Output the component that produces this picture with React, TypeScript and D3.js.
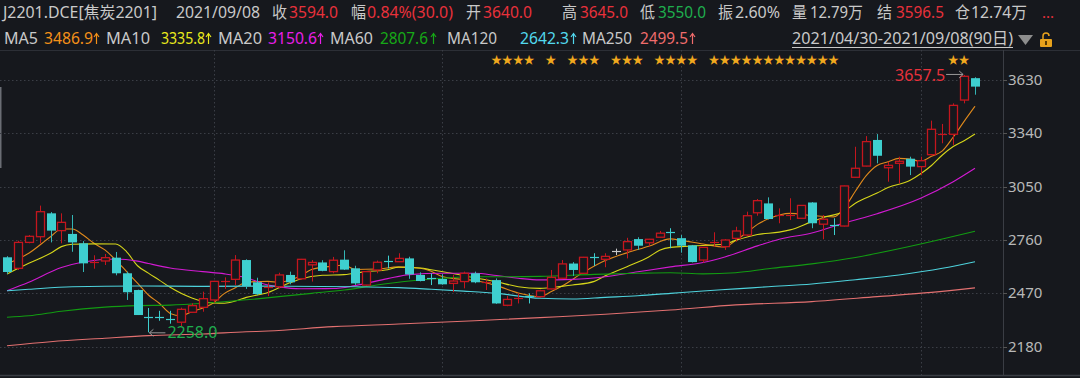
import React from "react";
import * as d3 from "d3";

// ---- data ----
const openP = [2666,2606,2747,2778,2905,2811,2793,2742,2640,2646,2664,2579,2488,2345,2340,2332,2313,2367,2394,2434,2537,2546,2651,2530,2500,2506,2570,2549,2625,2638,2588,2653,2606,2515,2597,2650,2642,2660,2570,2557,2548,2524,2534,2579,2530,2542,2405,2440,2454,2452,2494,2552,2632,2579,2668,2655,2700,2706,2765,2745,2775,2804,2770,2731,2651,2745,2724,2769,2787,2908,2959,2890,2895,2878,2964,2846,2845,2836,3101,3162,3304,3153,3177,3202,3159,3224,3330,3335,3521,3640];
const highP = [2672,2756,2787,2947,2912,2905,2896,2754,2677,2684,2695,2588,2490,2390,2375,2375,2392,2416,2479,2538,2557,2678,2655,2555,2530,2582,2588,2657,2651,2650,2668,2704,2620,2590,2648,2675,2688,2669,2584,2579,2574,2570,2588,2588,2551,2551,2456,2470,2470,2490,2597,2651,2640,2668,2688,2688,2713,2772,2775,2766,2809,2824,2787,2733,2722,2802,2765,2832,2914,2983,2992,2932,2987,2950,2966,2896,2878,3056,3267,3325,3336,3186,3213,3213,3213,3409,3391,3503,3657.5,3645];
const lowP = [2575,2597,2742,2742,2747,2742,2696,2586,2604,2624,2568,2434,2352,2258,2321,2305,2289,2365,2370,2419,2494,2515,2494,2460,2455,2497,2519,2545,2534,2590,2579,2597,2515,2512,2579,2606,2640,2549,2535,2515,2517,2477,2497,2525,2488,2413,2400,2415,2415,2448,2492,2550,2565,2577,2619,2612,2678,2660,2706,2724,2773,2715,2691,2638,2637,2724,2706,2751,2780,2892,2872,2851,2869,2876,2824,2764,2787,2834,3099,3160,3177,3077,3068,3113,3113,3222,3286,3277,3503,3550];
const closeP = [2586,2747,2780,2914,2811,2856,2747,2633,2645,2664,2579,2476,2352,2338,2338,2329,2383,2403,2441,2535,2539,2651,2510,2466,2510,2570,2530,2655,2638,2592,2650,2599,2524,2588,2639,2647,2660,2573,2537,2554,2519,2537,2579,2530,2537,2415,2437,2445,2452,2484,2557,2630,2597,2666,2666,2671,2700,2751,2729,2764,2797,2802,2729,2640,2720,2752,2760,2809,2892,2974,2874,2897,2900,2948,2851,2873,2842,3054,3150,3295,3218,3166,3188,3159,3191,3362,3340,3492,3650,3594];

const ma5Pts: [number, number][] = [[0,2630],[2,2688],[4,2778],[5,2820],[6,2820],[7,2787],[8,2742],[9,2706],[10,2651],[11,2588],[12,2525],[13,2461],[14,2416],[15,2361],[16,2348],[17,2370],[19,2419],[20,2470],[21,2500],[22,2530],[24,2535],[25,2530],[27,2565],[28,2600],[30,2618],[31,2624],[32,2600],[34,2602],[36,2614],[38,2606],[39,2590],[40,2562],[42,2545],[43,2540],[45,2512],[47,2472],[49,2452],[50,2478],[51,2508],[53,2584],[55,2648],[57,2690],[59,2726],[61,2766],[62,2758],[64,2738],[66,2722],[67,2758],[68,2800],[69,2845],[70,2875],[72,2905],[74,2893],[76,2886],[77,2935],[78,3025],[79,3110],[80,3165],[81,3185],[82,3204],[83,3200],[84,3188],[85,3215],[86,3245],[87,3320],[88,3405],[89,3487]];
const ma10Pts: [number, number][] = [[0,2575],[2,2633],[4,2688],[5,2724],[6,2737],[8,2739],[10,2738],[11,2696],[12,2620],[13,2580],[14,2542],[15,2503],[17,2445],[19,2418],[20,2416],[21,2428],[22,2448],[24,2475],[26,2527],[27,2548],[29,2568],[31,2572],[33,2588],[35,2598],[36,2612],[38,2608],[39,2598],[41,2578],[43,2555],[45,2533],[47,2506],[49,2497],[51,2508],[52,2515],[54,2535],[55,2565],[57,2615],[59,2668],[60,2704],[61,2720],[63,2727],[66,2738],[67,2758],[69,2790],[71,2803],[72,2815],[74,2860],[75,2881],[77,2918],[78,2960],[80,3015],[81,3045],[83,3083],[84,3120],[85,3165],[86,3222],[87,3268],[88,3300],[89,3336]];
const ma20Pts: [number, number][] = [[0,2484],[2,2530],[5,2610],[7,2640],[10,2657],[12,2645],[13,2632],[15,2608],[18,2588],[20,2576],[22,2555],[24,2515],[25,2505],[27,2495],[30,2496],[32,2512],[35,2550],[37,2572],[40,2579],[43,2579],[45,2567],[47,2552],[49,2543],[52,2546],[55,2560],[58,2587],[61,2614],[64,2638],[66,2668],[69,2728],[71,2764],[74,2798],[77,2853],[80,2903],[84,2987],[87,3077],[89,3150]];
const ma60Pts: [number, number][] = [[0,2340],[2,2348],[5,2373],[9,2395],[12,2403],[15,2406],[18,2416],[21,2430],[23,2440],[25,2452],[28,2470],[31,2488],[34,2515],[37,2537],[40,2552],[43,2560],[46,2560],[49,2562],[54,2573],[58,2579],[61,2582],[64,2576],[67,2582],[70,2604],[74,2630],[78,2665],[82,2712],[86,2765],[89,2808]];
const ma120Pts: [number, number][] = [[0,2484],[2,2492],[6,2506],[12,2510],[18,2508],[23,2509],[32,2506],[36,2501],[39,2492],[42,2482],[45,2470],[49,2443],[52,2439],[55,2448],[58,2457],[61,2470],[64,2483],[67,2494],[70,2506],[74,2521],[78,2544],[82,2570],[86,2606],[89,2642]];
const ma250Pts: [number, number][] = [[0,2185],[4,2207],[9,2226],[13,2240],[18,2249],[22,2261],[24,2265],[30,2289],[36,2303],[43,2321],[49,2338],[55,2356],[61,2379],[67,2407],[74,2425],[80,2452],[85,2475],[89,2500]];

const starDays = [45,46,47,48,50,52,53,54,56,57,58,60,61,62,63,65,66,67,68,69,70,71,72,73,74,75,76,87,88];
const monthStartIdx = [19, 40, 62, 84];
const yTicks = [3630, 3340, 3050, 2760, 2470, 2180];
const highIdx = 88, highVal = 3657.5;
const lowIdx = 13, lowVal = 2258.0;

const GRAY = "#c9c9c9";
const RED = "#e8313b";
const GREEN = "#1fae4e";
// [x, text, color, width]
const headerRow1: [number, string, string, number][] = [
  [3, "J2201.DCE[焦炭2201]", GRAY, 154], [176, "2021/09/08", GRAY, 84], [272, "收", GRAY, 15], [289, "3594.0", RED, 49],
  [351, "幅", GRAY, 15], [367, "0.84%(30.0)", RED, 86], [466, "开", GRAY, 15], [483, "3640.0", RED, 49],
  [562, "高", GRAY, 15], [580, "3645.0", RED, 48], [640, "低", GRAY, 15], [658, "3550.0", GREEN, 48],
  [718, "振", GRAY, 15], [735, "2.60%", GRAY, 45], [792, "量", GRAY, 15], [810, "12.79万", GRAY, 53],
  [877, "结", GRAY, 15], [896, "3596.5", RED, 48], [955, "仓", GRAY, 15], [971, "12.74万", GRAY, 56],
];
const maNames = ["MA5", "MA10", "MA20", "MA60", "MA120", "MA250"];
const maValues = ["3486.9", "3335.8", "3150.6", "2807.6", "2642.3", "2499.5"];
const maTextColors = ["#f39019", "#e8e81c", "#e81ee8", "#17a817", "#52d8ee", "#f06c6c"];
const maLineColors = ["#e08a1c", "#d6d61a", "#d21ad2", "#129c12", "#4ed2dc", "#e27070"];
const maNameX = [4, 106, 218, 330, 447, 582];
const maNameW = [34, 44, 44, 43, 50, 50];
const maValX = [44, 161, 268, 380, 520, 640];
const maValW = [49, 44, 49, 48, 49, 48];
const maArrowX = [96, 208, 320, 433, 573, 692];
const rangeText = "2021/04/30-2021/09/08(90日)";

const BG = "#16181d";
const CYAN = "#3ecfcf";
const UPRED = "#c4161e";
const FONT = "'Noto Sans','Noto Sans CJK SC',sans-serif";

export default function App() {
  const W = 1080, H = 378;
  const x = d3.scaleLinear().domain([0, closeP.length - 1]).range([7, 975]);
  const y = d3.scaleLinear().domain([2180, 3630]).range([346.67, 80]);
  const line = d3.line<[number, number]>().x(d => x(d[0])).y(d => y(d[1])).curve(d3.curveMonotoneX);
  const maSeries = [ma5Pts, ma10Pts, ma20Pts, ma60Pts, ma120Pts, ma250Pts];
  const plotTop = 50, plotBottom = 375, axisX = 1003;

  const candles = closeP.map((c, i) => {
    const o = openP[i], h = highP[i], l = lowP[i];
    const cx = Math.round(x(i));
    const yo = y(o), yc = y(c), yh = y(h), yl = y(l);
    const top = Math.min(yo, yc), bot = Math.max(yo, yc);
    const color = c > o ? UPRED : c < o ? CYAN : GRAY;
    const wx = cx + 0.5;
    if (bot - top < 2) {
      const ym = Math.round((top + bot) / 2) + 0.5;
      return (
        <g key={i}>
          <line x1={wx} x2={wx} y1={yh} y2={yl} stroke={color} strokeWidth={1} />
          <line x1={cx - 4} x2={cx + 5} y1={ym} y2={ym} stroke={color} strokeWidth={1.2} />
        </g>
      );
    }
    if (c > o) {
      return (
        <g key={i}>
          <line x1={wx} x2={wx} y1={yh} y2={top} stroke={UPRED} strokeWidth={1} />
          <line x1={wx} x2={wx} y1={bot} y2={yl} stroke={UPRED} strokeWidth={1} />
          <rect x={cx - 3.5} y={top} width={8} height={bot - top} fill={BG} stroke={UPRED} strokeWidth={1.3} />
        </g>
      );
    }
    return (
      <g key={i}>
        <line x1={wx} x2={wx} y1={yh} y2={yl} stroke="#33b5b5" strokeWidth={1} />
        <rect x={cx - 4} y={top} width={9} height={bot - top} fill={CYAN} />
      </g>
    );
  });

  const hx = x(highIdx), hy = y(highVal);
  const lx = x(lowIdx), ly = y(lowVal);

  return (
    <svg width={W} height={H} style={{ position: "fixed", left: 0, top: 0, display: "block", background: BG }} fontFamily={FONT}>
      <rect x={0} y={0} width={W} height={H} fill={BG} />
      {/* header */}
      {headerRow1.map(([hxp, t, col, w], k) => (
        <text key={k} x={hxp} y={18} fontSize={15.5} fill={col} textLength={w} lengthAdjust="spacingAndGlyphs">{t}</text>
      ))}
      <text x={1042} y={18} fontSize={15} fill={RED}>...</text>
      {maNames.map((n, k) => (
        <g key={n}>
          <text x={maNameX[k]} y={44} fontSize={15.5} fill={GRAY} textLength={maNameW[k]} lengthAdjust="spacingAndGlyphs">{n}</text>
          <text x={maValX[k]} y={44} fontSize={15.5} fill={maTextColors[k]} textLength={maValW[k]} lengthAdjust="spacingAndGlyphs">{maValues[k]}</text>
          <line x1={maArrowX[k] + 0.5} x2={maArrowX[k] + 0.5} y1={34} y2={44} stroke={maTextColors[k]} strokeWidth={1.2} />
          <path d={`M${maArrowX[k] - 2},${37} L${maArrowX[k] + 0.5},${33.5} L${maArrowX[k] + 3},${37}`} fill="none" stroke={maTextColors[k]} strokeWidth={1.2} />
        </g>
      ))}
      <text x={792} y={44} fontSize={15.5} fill={GRAY} textLength={221} lengthAdjust="spacingAndGlyphs">{rangeText}</text>
      <line x1={792} x2={1013} y1={47.5} y2={47.5} stroke={GRAY} strokeWidth={1} />
      <polygon points="1018,35 1033,35 1025.5,45" fill="#8d8d8d" />
      <rect x={1040} y={39} width={12} height={8} fill="#e8a21c" rx={1} />
      <path d="M1043,39 v-3 a3,3 0 0 1 6,0" fill="none" stroke="#e8a21c" strokeWidth={1.5} />
      <rect x={1045} y={41} width={2} height={4} fill="#5a3b00" />

      {/* frame */}
      <line x1={0} x2={W} y1={plotTop + 0.5} y2={plotTop + 0.5} stroke="#2c2f36" strokeWidth={1} />
      <line x1={0} x2={W} y1={plotBottom + 0.5} y2={plotBottom + 0.5} stroke="#3a3d44" strokeWidth={1.5} />
      <line x1={axisX + 0.5} x2={axisX + 0.5} y1={plotTop} y2={plotBottom} stroke="#3a3d44" strokeWidth={1} />
      <rect x={0} y={87} width={1.5} height={81} fill="#6a6d74" />

      {/* grid */}
      {yTicks.map(t => (
        <g key={t}>
          <line x1={0} x2={axisX} y1={Math.round(y(t)) + 0.5} y2={Math.round(y(t)) + 0.5} stroke="#3b3e46" strokeDasharray="1.5,2.5" />
          <line x1={axisX} x2={axisX + 4} y1={Math.round(y(t)) + 0.5} y2={Math.round(y(t)) + 0.5} stroke="#555" />
          <text x={1008} y={y(t) + 5} fontSize={15} fill="#b8b8b8">{t}</text>
        </g>
      ))}
      {monthStartIdx.map(i => (
        <line key={i} x1={Math.round(x(i)) + 0.5} x2={Math.round(x(i)) + 0.5} y1={plotTop} y2={plotBottom} stroke="#3b3e46" strokeDasharray="1.5,2.5" />
      ))}

      {/* moving averages */}
      {maSeries.map((pts, k) => (
        <path key={k} d={line(pts) || ""} fill="none" stroke={maLineColors[k]} strokeWidth={1.1} />
      ))}

      {/* candles */}
      {candles}

      {/* stars */}
      {starDays.map(i => (
        <text key={i} x={x(i)} y={64} fontSize={11} fill="#f0a81e" textAnchor="middle">★</text>
      ))}

      {/* high marker */}
      <text x={hx - 19} y={hy + 6} fontSize={16} fill={RED} textAnchor="end">{highVal.toFixed(1)}</text>
      <line x1={hx - 18} x2={hx - 1} y1={hy - 0.5} y2={hy - 0.5} stroke="#9a9a9a" strokeWidth={1} />
      <path d={`M${hx - 5},${hy - 4} L${hx - 1},${hy - 0.5} L${hx - 5},${hy + 3}`} fill="none" stroke="#9a9a9a" strokeWidth={1} />

      {/* low marker */}
      <line x1={lx + 1} x2={lx + 17} y1={ly + 0.5} y2={ly + 0.5} stroke="#9a9a9a" strokeWidth={1} />
      <path d={`M${lx + 5},${ly - 3} L${lx + 1},${ly + 0.5} L${lx + 5},${ly + 4}`} fill="none" stroke="#9a9a9a" strokeWidth={1} />
      <text x={lx + 19} y={ly + 6} fontSize={16} fill={GREEN}>{lowVal.toFixed(1)}</text>
    </svg>
  );
}
